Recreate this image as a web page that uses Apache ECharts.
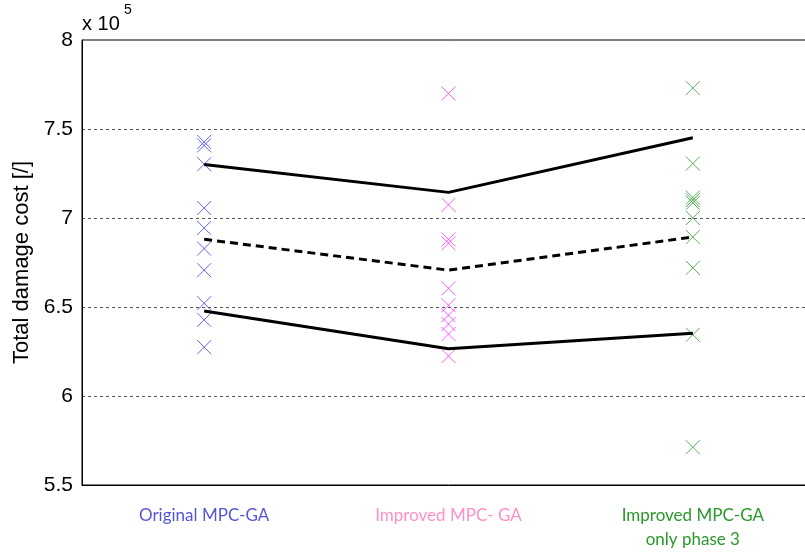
<!DOCTYPE html>
<html>
<head>
<meta charset="utf-8">
<script src="https://cdn.jsdelivr.net/npm/echarts@6/dist/echarts.min.js"></script>
<style>html,body{margin:0;padding:0;background:#fff;overflow:hidden;width:805px;height:552px;}#c{width:815px;height:552px;}</style>
</head>
<body>
<div id="c"></div>
<script>
// categories and tick labels
var categories = ['Original MPC-GA', 'Improved MPC- GA', 'Improved MPC-GA\nonly phase 3'];
var categoryColors = ['#5656d8', '#ff8fc8', '#2a982a'];
var markerColors = ['#3c3cff', '#ff33ff', '#2ea02e'];
var yTicks = [5.5, 6, 6.5, 7, 7.5, 8];

// individual runs (x 10^5)
var originalRuns = [7.427, 7.408, 7.302, 7.056, 6.944, 6.828, 6.707, 6.521, 6.428, 6.274];
var improvedRuns = [7.699, 7.074, 6.88, 6.858, 6.605, 6.51, 6.454, 6.404, 6.348, 6.224];
var phase3Runs   = [7.73, 7.306, 7.115, 7.10, 7.085, 7.0, 6.893, 6.72, 6.344, 5.712];

// summary lines (x 10^5)
var upperLine = [7.30, 7.144, 7.451];
var meanLine  = [6.88, 6.707, 6.893];
var lowerLine = [6.478, 6.266, 6.352];

var runs = [originalRuns, improvedRuns, phase3Runs];
var xPath = 'path://M0,0L10,10M10,0L0,10';
var sans = '"Liberation Sans", Arial, sans-serif';

var series = [];
runs.forEach(function (vals, i) {
  series.push({
    type: 'scatter',
    symbol: xPath,
    symbolSize: 14,
    itemStyle: { color: 'transparent', borderColor: markerColors[i], borderWidth: 1 },
    data: vals.map(function (v) { return [i, v]; }),
    z: 3
  });
});
[[upperLine, 'solid'], [meanLine, [8, 5]], [lowerLine, 'solid']].forEach(function (d) {
  series.push({
    type: 'line',
    data: d[0],
    symbol: 'none',
    lineStyle: { color: '#000', width: 3, type: d[1] },
    z: 4
  });
});

var chart = echarts.init(document.getElementById('c'), null, { renderer: 'canvas' });
chart.setOption({
  animation: false,
  backgroundColor: '#fff',
  grid: { left: 82, top: 40, right: 0, bottom: 64, show: true, borderColor: '#000', borderWidth: 1, backgroundColor: 'transparent' },
  xAxis: {
    type: 'category',
    data: categories,
    boundaryGap: true,
    axisLine: { show: true, lineStyle: { color: '#000', width: 1 } },
    axisTick: { show: false },
    splitLine: { show: false },
    axisLabel: {
      margin: 19,
      fontFamily: 'Lato, "Open Sans", sans-serif',
      fontSize: 17,
      lineHeight: 24,
      color: function (v, i) { return categoryColors[i]; }
    }
  },
  yAxis: {
    type: 'value',
    min: yTicks[0],
    max: yTicks[yTicks.length - 1],
    interval: 0.5,
    name: 'Total damage cost [/]',
    nameLocation: 'middle',
    nameGap: 45,
    nameTextStyle: { fontFamily: sans, fontSize: 22, color: '#000' },
    axisLine: { show: true, lineStyle: { color: '#000', width: 1 } },
    axisTick: { show: false },
    axisLabel: {
      margin: 9,
      fontFamily: sans,
      fontSize: 21,
      color: '#000',
      formatter: function (v) { return String(v); }
    },
    splitLine: {
      show: true,
      lineStyle: { color: ['transparent', '#555', '#555', '#555', '#555', 'transparent'], type: [3, 3], width: 1 }
    }
  },
  graphic: [
    { type: 'text', left: 82, top: 14, style: { text: 'x 10', font: '20px "Liberation Sans", Arial, sans-serif', fill: '#000' } },
    { type: 'text', left: 124, top: 3, style: { text: '5', font: '14px "Liberation Sans", Arial, sans-serif', fill: '#000' } }
  ],
  series: series
});
</script>
</body>
</html>
